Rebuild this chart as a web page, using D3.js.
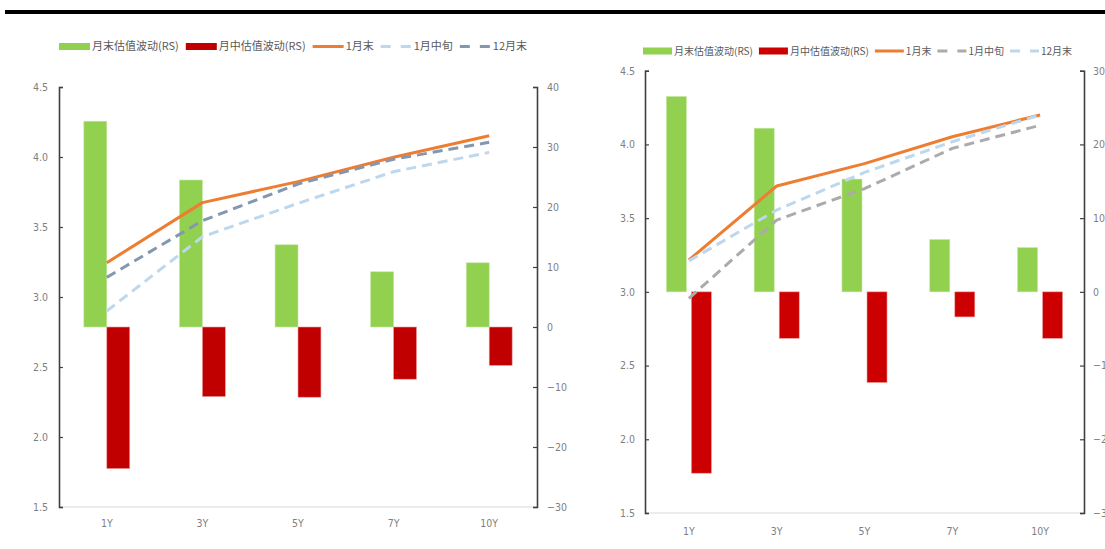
<!DOCTYPE html>
<html>
<head>
<meta charset="utf-8">
<script src="https://cdn.jsdelivr.net/npm/d3@7"></script>
<style>
  html, body { margin: 0; padding: 0; background: #fff; }
  svg { display: block; }
</style>
</head>
<body>
<svg id="chart" width="1105" height="549"></svg>
<script>
// Tenor buckets shared by both panels
const categories = ["1Y", "3Y", "5Y", "7Y", "10Y"];

// Left panel: valuation swings (bp, right axis) and yield curves (%, left axis)
const leftMonthEndSwing = [34.3, 24.5, 13.7, 9.2, 10.7];
const leftMidMonthSwing = [-23.6, -11.6, -11.7, -8.7, -6.4];
const leftJanEnd = [3.245, 3.674, 3.824, 3.998, 4.152];
const leftJanMid = [2.90, 3.43, 3.669, 3.895, 4.033];
const leftDecEnd = [3.14, 3.545, 3.807, 3.984, 4.105];

// Right panel
const rightMonthEndSwing = [26.5, 22.2, 15.3, 7.1, 6.0];
const rightMidMonthSwing = [-24.6, -6.3, -12.3, -3.4, -6.3];
const rightJanEnd = [3.216, 3.718, 3.87, 4.052, 4.20];
const rightJanMid = [2.956, 3.487, 3.70, 3.973, 4.13];
const rightDecEnd = [3.21, 3.555, 3.81, 4.018, 4.20];

// Axis ticks
const leftAxisTicks = [1.5, 2.0, 2.5, 3.0, 3.5, 4.0, 4.5];
const leftPanelRightTicks = [-30, -20, -10, 0, 10, 20, 30, 40];
const rightPanelRightTicks = [-30, -20, -10, 0, 10, 20, 30];

// Legend labels
const barNames = ["月末估值波动(RS)", "月中估值波动(RS)"];
const lineNames = ["1月末", "1月中旬", "12月末"];

const GREEN = "#92d050";
const ORANGE = "#ed7d31";
const LIGHT_BLUE = "#bdd7ee";
const SLATE = "#8497b0";
const GREY = "#aeaaaa";

const LATIN = "'Liberation Sans Narrow', 'DejaVu Sans Condensed', 'Liberation Sans', Arial, sans-serif";
const CJK = "'Noto Sans CJK SC', 'Liberation Sans Narrow', sans-serif";

const svg = d3.select("#chart");

// Heavy rule across the top of the page
svg.append("rect")
  .attr("x", 5).attr("y", 10)
  .attr("width", 1100).attr("height", 4)
  .attr("fill", "#000");

function drawPanel(cfg) {
  const g = svg.append("g");

  const x = d3.scaleBand().domain(categories).range([cfg.x0, cfg.x1]).padding(0);
  const bw = x.bandwidth();
  const yL = d3.scaleLinear().domain([1.5, 4.5]).range([cfg.yBottom, cfg.yTop]);
  const yR = d3.scaleLinear().domain(cfg.rightDomain).range([cfg.yBottom, cfg.yTop]);
  const barW = bw * cfg.barFrac;

  // category axis baseline
  g.append("line")
    .attr("x1", cfg.x0).attr("x2", cfg.x1)
    .attr("y1", cfg.yBottom).attr("y2", cfg.yBottom)
    .attr("stroke", "#d9d9d9").attr("stroke-width", 1.2);

  // bars: month-end swing left of centre, mid-month swing right of centre
  const barSeries = [
    { values: cfg.endSwing, color: GREEN, edge: "#c5e7a3", offset: -cfg.barGap / 2 - barW },
    { values: cfg.midSwing, color: cfg.red, edge: "#ef9a9a", offset: cfg.barGap / 2 }
  ];
  barSeries.forEach(s => {
    g.selectAll(null)
      .data(categories.map((c, i) => ({ c, v: s.values[i] })))
      .join("rect")
      .attr("x", d => x(d.c) + bw / 2 + s.offset)
      .attr("width", barW)
      .attr("y", d => Math.min(yR(0), yR(d.v)))
      .attr("height", d => Math.abs(yR(d.v) - yR(0)))
      .attr("fill", s.color)
      .attr("stroke", s.edge)
      .attr("stroke-width", 0.6);
  });

  // yield curves
  const line = d3.line()
    .x((d, i) => x(categories[i]) + bw / 2)
    .y(d => yL(d));
  cfg.lines.forEach(s => {
    g.append("path")
      .datum(s.values)
      .attr("d", line)
      .attr("fill", "none")
      .attr("stroke", s.color)
      .attr("stroke-width", 3)
      .attr("stroke-linejoin", "round")
      .attr("stroke-dasharray", s.dash ? "10,6" : null);
  });

  // left value axis
  const leftAxis = d3.axisRight(yL).tickValues(leftAxisTicks).tickFormat(d3.format(".1f")).tickSize(4);
  const la = g.append("g").attr("transform", `translate(${cfg.x0},0)`).call(leftAxis);
  la.select(".domain").attr("stroke", "#404040").attr("stroke-width", 1.6);
  la.selectAll(".tick line").attr("stroke", "#404040").attr("stroke-width", 1.2);
  la.selectAll(".tick text")
    .attr("x", -cfg.leftLabelGap).attr("text-anchor", "end")
    .attr("fill", "#7f7f7f").style("font", `${cfg.tickFont}px ${LATIN}`);

  // right (swing) axis
  const rightAxis = d3.axisLeft(yR).tickValues(cfg.rightTicks).tickFormat(d3.format("d")).tickSize(4);
  const ra = g.append("g").attr("transform", `translate(${cfg.x1},0)`).call(rightAxis);
  ra.select(".domain").attr("stroke", "#404040").attr("stroke-width", 1.6);
  ra.selectAll(".tick line").attr("stroke", "#404040").attr("stroke-width", 1.2);
  ra.selectAll(".tick text")
    .attr("x", cfg.rightLabelGap).attr("text-anchor", "start")
    .attr("fill", "#7f7f7f").style("font", `${cfg.tickFont}px ${LATIN}`);

  // category labels
  g.selectAll(null)
    .data(categories)
    .join("text")
    .attr("x", d => x(d) + bw / 2)
    .attr("y", cfg.catLabelY)
    .attr("text-anchor", "middle")
    .attr("fill", "#7f7f7f")
    .style("font", `${cfg.tickFont}px ${LATIN}`)
    .text(d => d);

  // legend
  const items = [
    { name: barNames[0], type: "bar", color: GREEN },
    { name: barNames[1], type: "bar", color: cfg.red },
    ...cfg.lines.map((s, i) => ({ name: s.name, type: s.dash ? "dash" : "line", color: s.color }))
  ];
  const lg = g.append("g");
  let cx = cfg.legendX;
  items.forEach(it => {
    if (it.type === "bar") {
      lg.append("rect")
        .attr("x", cx).attr("y", cfg.legendY - 3.5)
        .attr("width", cfg.swatchW).attr("height", 7)
        .attr("fill", it.color);
    } else {
      lg.append("line")
        .attr("x1", cx).attr("x2", cx + cfg.swatchW)
        .attr("y1", cfg.legendY).attr("y2", cfg.legendY)
        .attr("stroke", it.color).attr("stroke-width", 3)
        .attr("stroke-dasharray", it.type === "dash" ? "10,10" : null);
    }
    cx += cfg.swatchW + 2;
    const t = lg.append("text")
      .attr("x", cx).attr("y", cfg.legendY)
      .attr("dy", "0.35em")
      .attr("fill", "#595959")
      .style("font", `${cfg.legendFont}px ${CJK}`)
      .text(it.name);
    cx += t.node().getComputedTextLength() + cfg.legendGap;
  });
}

drawPanel({
  x0: 59, x1: 537, yTop: 87, yBottom: 507,
  rightDomain: [-30, 40], rightTicks: leftPanelRightTicks,
  barFrac: 0.24, barGap: 0, red: "#c00000",
  endSwing: leftMonthEndSwing, midSwing: leftMidMonthSwing,
  lines: [
    { name: lineNames[0], values: leftJanEnd, color: ORANGE, dash: false },
    { name: lineNames[1], values: leftJanMid, color: LIGHT_BLUE, dash: true },
    { name: lineNames[2], values: leftDecEnd, color: SLATE, dash: true }
  ],
  leftLabelGap: 11, rightLabelGap: 10, tickFont: 10.5, catLabelY: 527,
  legendX: 59, legendY: 46.5, swatchW: 31, legendGap: 7, legendFont: 11
});

drawPanel({
  x0: 645, x1: 1084, yTop: 70.7, yBottom: 513,
  rightDomain: [-30, 30], rightTicks: rightPanelRightTicks,
  barFrac: 0.228, barGap: 5, red: "#cc0000",
  endSwing: rightMonthEndSwing, midSwing: rightMidMonthSwing,
  lines: [
    { name: lineNames[0], values: rightJanEnd, color: ORANGE, dash: false },
    { name: lineNames[1], values: rightJanMid, color: GREY, dash: true },
    { name: lineNames[2], values: rightDecEnd, color: LIGHT_BLUE, dash: true }
  ],
  leftLabelGap: 10, rightLabelGap: 9, tickFont: 10.5, catLabelY: 535,
  legendX: 643, legendY: 51, swatchW: 29, legendGap: 6, legendFont: 10
});
</script>
</body>
</html>
